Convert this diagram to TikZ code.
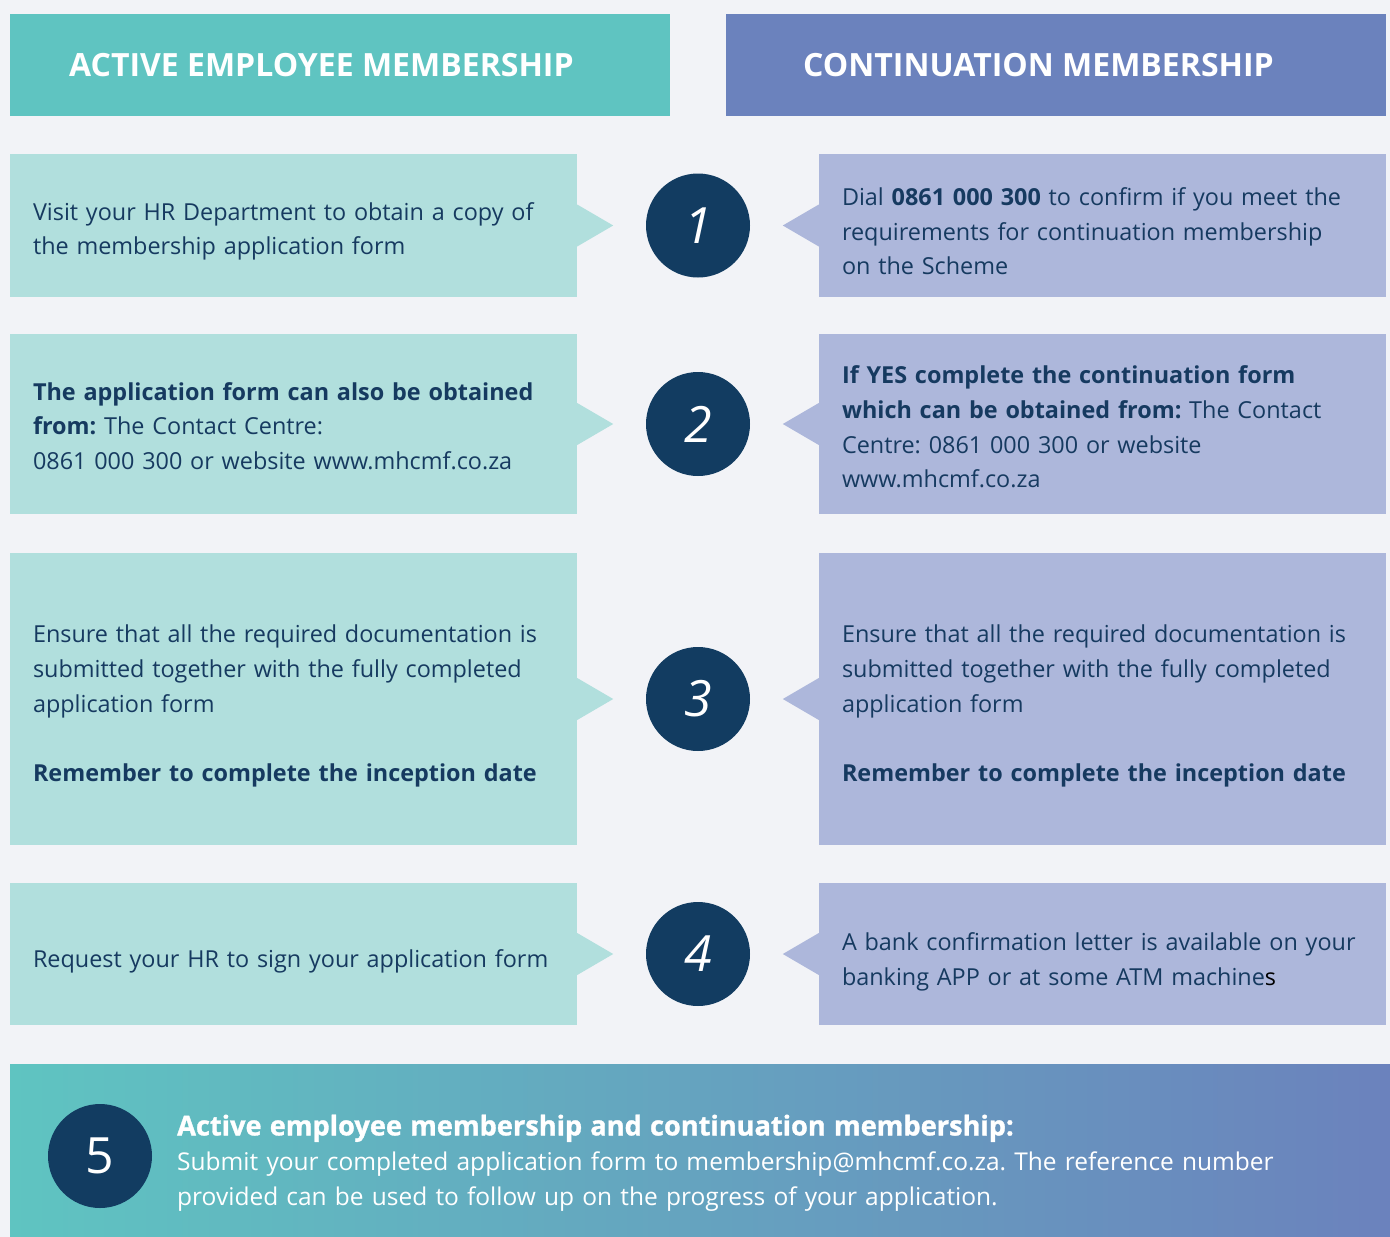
\documentclass[tikz,border=0pt]{standalone}
\usepackage{fontspec}
\setmainfont{Open Sans}
\usepackage{tikz}
\usetikzlibrary{calc}

\definecolor{pagebg}{HTML}{F2F3F7}
\definecolor{tealhead}{HTML}{5FC4C1}
\definecolor{bluehead}{HTML}{6B82BD}
\definecolor{tealbox}{HTML}{B1DFDD}
\definecolor{bluebox}{HTML}{ADB7DB}
\definecolor{discblue}{HTML}{123C61}
\definecolor{inkblue}{HTML}{163A60}

\frenchspacing

\begin{document}
\begin{tikzpicture}[
        x=1pt, y=-1pt,
        headbox/.style={rectangle, minimum width=660pt, minimum height=102pt, inner sep=0pt},
        headtext/.style={anchor=west, text=white, inner sep=0pt, font=\fontsize{32}{38}\selectfont\bfseries},
        stepbox/.style={rectangle, minimum width=567pt, inner sep=0pt},
        leftbox/.style={stepbox, fill=tealbox},
        rightbox/.style={stepbox, fill=bluebox},
        steptext/.style={anchor=west, inner sep=0pt, text width=545pt, align=left,
            text=inkblue, font=\fontsize{23.4}{34.6}\selectfont},
        numdisc/.style={circle, fill=discblue, minimum size=104pt, inner sep=0pt,
            text=white, font=\fontsize{50}{50}\selectfont\itshape},
    ]
        \useasboundingbox[fill=pagebg] (0, 0) rectangle (1390, 1237);

        % column headers
        \node[headbox, fill=tealhead] (headL) at (340, 65) {};
        \node[headbox, fill=bluehead] (headR) at (1056, 65) {};
        \node[headtext] (headLtext) at (69, 65) {ACTIVE EMPLOYEE MEMBERSHIP};
        \node[headtext] (headRtext) at (803, 65) {CONTINUATION MEMBERSHIP};

        % boxes
        \node[leftbox, minimum height=143pt] (L1) at (293.5, 225.5) {};
        \node[leftbox, minimum height=180pt] (L2) at (293.5, 424) {};
        \node[leftbox, minimum height=292pt] (L3) at (293.5, 699) {};
        \node[leftbox, minimum height=142pt] (L4) at (293.5, 954) {};
        \node[rightbox, minimum height=143pt] (R1) at (1102.5, 225.5) {};
        \node[rightbox, minimum height=180pt] (R2) at (1102.5, 424) {};
        \node[rightbox, minimum height=292pt] (R3) at (1102.5, 699) {};
        \node[rightbox, minimum height=142pt] (R4) at (1102.5, 954) {};

        % left column texts
        \node[steptext] (L1text) at ([xshift=23pt, yshift=-6pt]L1.west)
            {Visit your HR Department to obtain a copy of\\the membership application form};
        \node[steptext] (L2text) at ([xshift=23pt, yshift=-2pt]L2.west)
            {\textbf{The application form can also be obtained}\\\textbf{from:} The Contact Centre:\\0861 000 300 or website www.mhcmf.co.za};
        \node[steptext] (L3text) at ([xshift=23pt, yshift=-7pt]L3.west)
            {Ensure that all the required documentation is\\submitted together with the fully completed\\application form\\[34.6pt]\textbf{Remember to complete the inception date}};
        \node[steptext] (L4text) at ([xshift=23pt, yshift=-7pt]L4.west)
            {Request your HR to sign your application form};

        % right column texts
        \node[steptext] (R1text) at ([xshift=23pt, yshift=-6pt]R1.west)
            {Dial \textbf{0861 000 300} to confirm if you meet the\\requirements for continuation membership\\on the Scheme};
        \node[steptext] (R2text) at ([xshift=23pt, yshift=-3pt]R2.west)
            {\textbf{If YES complete the continuation form}\\\textbf{which can be obtained from:} The Contact\\Centre: 0861 000 300 or website\\www.mhcmf.co.za};
        \node[steptext] (R3text) at ([xshift=23pt, yshift=-7pt]R3.west)
            {Ensure that all the required documentation is\\submitted together with the fully completed\\application form\\[34.6pt]\textbf{Remember to complete the inception date}};
        \node[steptext] (R4text) at ([xshift=23pt, yshift=-8pt]R4.west)
            {A bank confirmation letter is available on your\\banking APP or at some ATM machine\textcolor{black}{s}};

        % pointers and step numbers
        \foreach \i in {1,2,3,4} {
            \fill[tealbox] ($(L\i.east)+(0,-21)$) -- ($(L\i.east)+(36,0)$) -- ($(L\i.east)+(0,21)$) -- cycle;
            \fill[bluebox] ($(R\i.west)+(0,-21)$) -- ($(R\i.west)+(-36,0)$) -- ($(R\i.west)+(0,21)$) -- cycle;
            \node[numdisc] (num\i) at ($(L\i.east)!0.5!(R\i.west)$) {\i};
        }

        % final step
        \shade[left color=tealhead, right color=bluehead] (10, 1064) rectangle (1390, 1237);
        \node[numdisc, font=\fontsize{50}{50}\selectfont] (num5) at (100, 1156) {5};
        \node[anchor=west, text=white, text width=1180pt, align=left, inner sep=0pt,
            font=\fontsize{24.5}{35}\selectfont] (final) at (177, 1163)
            {{\fontsize{27.2}{35}\selectfont\bfseries\addfontfeature{FakeBold=1.2}Active employee membership and continuation membership:}\\Submit your completed application form to membership@mhcmf.co.za. The reference number\\provided can be used to follow up on the progress of your application.};
    \end{tikzpicture}
\end{document}
